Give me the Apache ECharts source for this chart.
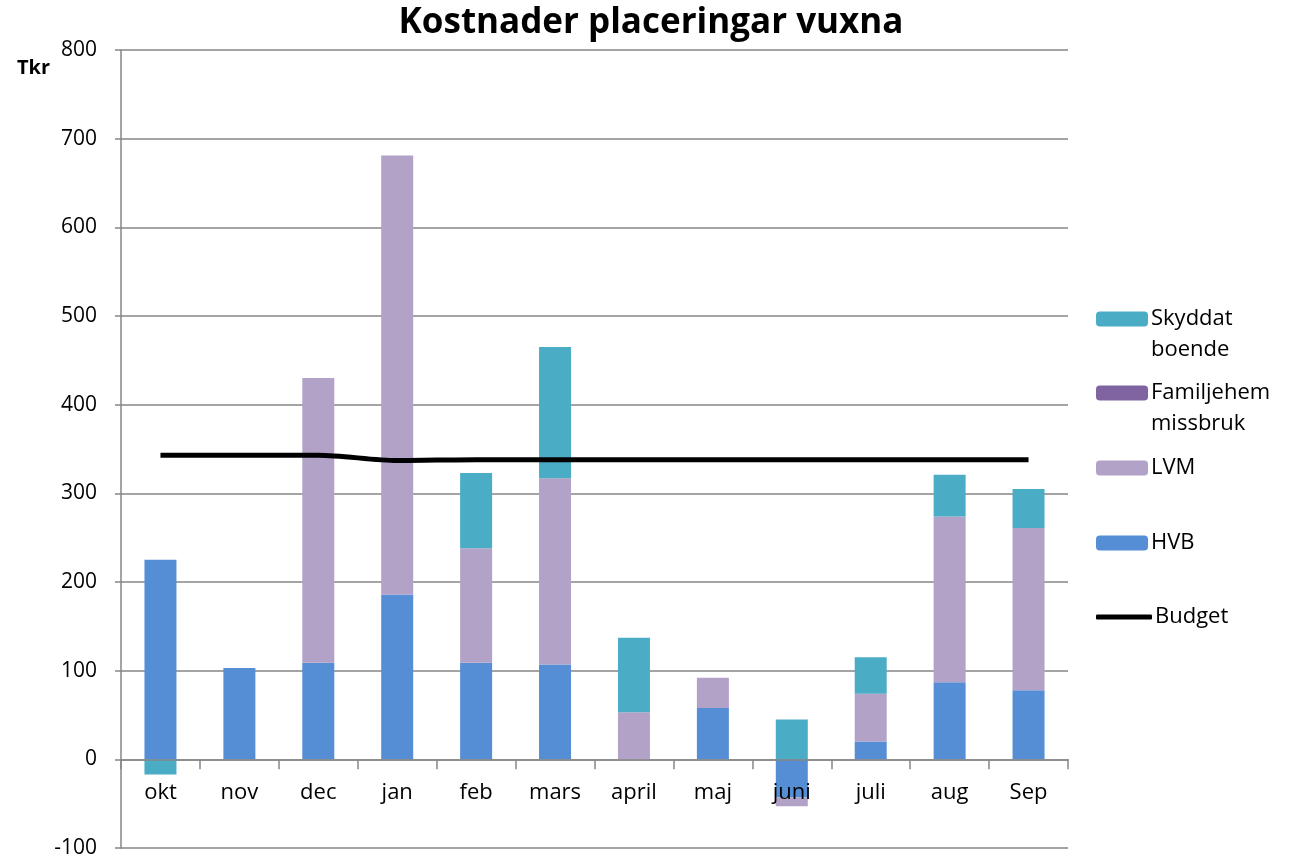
<!DOCTYPE html>
<html><head><meta charset="utf-8">
<script src="https://cdn.jsdelivr.net/npm/echarts@6/dist/echarts.min.js"></script>
<style>html,body{margin:0;padding:0;background:#fff}#c{width:1296px;height:855px}</style>
</head><body><div id="c"></div>
<script>
const categories = ['okt','nov','dec','jan','feb','mars','april','maj','juni','juli','aug','Sep'];
const hvb        = [225, 103, 109, 186, 109, 107,   0,  58, -43,  20,  87,  78];
const lvm        = [  0,   0, 321, 495, 129, 210,  53,  34, -10,  54, 187, 183];
const familjehem = [  0,   0,   0,   0,   0,   0,   0,   0,   0,   0,   0,   0];
const skyddat    = [-17,   0,   0,   0,  85, 148,  84,   0,  45,  41,  47,  44];
const budget     = [343, 343, 343, 337, 338, 338, 338, 338, 338, 338, 338, 338];
const yTicks = {min: -100, max: 800, interval: 100};

const FONT = 'Open Sans';
const GRID_TOP = 50, GRID_BOTTOM = 7, H = 855;
const plotH = H - GRID_TOP - GRID_BOTTOM;
const zeroFromBottom = plotH * (0 - yTicks.min) / (yTicks.max - yTicks.min);

const chart = echarts.init(document.getElementById('c'));
const legendX = 1096;
function leg(name, top, extra){
  return Object.assign({show:true, data:[name], left:legendX, top:top, orient:'vertical', itemWidth:52, itemHeight:15, itemGap:0, padding:0,
    textStyle:{fontFamily:FONT, fontSize:22, color:'#000', padding:[0,0,0,-2]}, selectedMode:false}, extra||{});
}
chart.setOption({
  animation:false,
  title:{text:'Kostnader placeringar vuxna', left:646, textAlign:'center', top:1,
    textStyle:{fontFamily:FONT, fontWeight:'bold', fontSize:35, color:'#000'}},
  graphic:[
    {type:'text', left:17, top:58, style:{text:'Tkr', font:'bold 20px "Open Sans"', fill:'#000'}},
    {type:'text', left:1151, top:339, style:{text:'boende', font:'22px "Open Sans"', fill:'#000'}},
    {type:'text', left:1151, top:413, style:{text:'missbruk', font:'22px "Open Sans"', fill:'#000'}}
  ],
  legend:[
    leg('Skyddat', 308),
    leg('Familjehem', 382),
    leg('LVM', 457),
    leg('HVB', 532),
    leg('Budget', 606, {itemWidth:56, itemHeight:5, data:[{name:'Budget', icon:'roundRect'}]})
  ],
  grid:{left:121, right:228, top:GRID_TOP, bottom:GRID_BOTTOM, containLabel:false, outerBoundsMode:'none'},
  xAxis:{type:'category', data:categories, offset:-zeroFromBottom, z:10,
    axisLine:{onZero:false, lineStyle:{color:'#868686', width:1.5}},
    axisTick:{show:true, length:10, lineStyle:{color:'#868686', width:1.5}},
    axisLabel:{margin:22, fontFamily:FONT, fontSize:22, color:'#000'}},
  yAxis:{type:'value', min:yTicks.min, max:yTicks.max, interval:yTicks.interval,
    axisLine:{show:true, lineStyle:{color:'#868686', width:1.5}},
    axisTick:{show:true, length:6, lineStyle:{color:'#868686', width:1.5}},
    splitLine:{lineStyle:{color:'#868686', width:1.5}},
    axisLabel:{margin:24, fontFamily:FONT, fontSize:21, color:'#000'}},
  series:[
    {name:'HVB', type:'bar', stack:'s', data:hvb, barWidth:32, itemStyle:{color:'#558ED5'}},
    {name:'LVM', type:'bar', stack:'s', data:lvm, itemStyle:{color:'#B3A2C7'}},
    {name:'Familjehem', type:'bar', stack:'s', data:familjehem, itemStyle:{color:'#8064A2'}},
    {name:'Skyddat', type:'bar', stack:'s', data:skyddat, itemStyle:{color:'#4BACC6'}},
    {name:'Budget', type:'line', data:budget, smooth:0.3, symbol:'none', z:5,
      lineStyle:{color:'#000', width:5}, itemStyle:{color:'#000'}}
  ]
});
</script></body></html>
